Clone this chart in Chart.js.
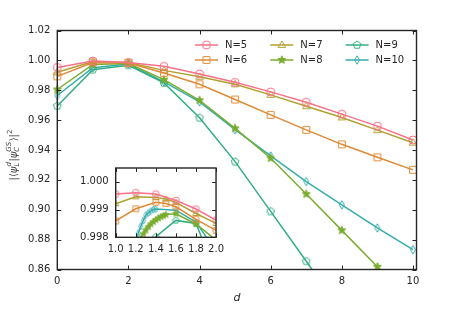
<!DOCTYPE html>
<html>
<head>
<meta charset="utf-8">
<script src="https://cdn.jsdelivr.net/npm/chart.js@4.4.0/dist/chart.umd.min.js"></script>
<style>
  html, body { margin: 0; padding: 0; background: #fff; }
  #wrap { position: relative; width: 463px; height: 309px; }
  #main { position: absolute; left: 0; top: 0; }
  #inset { position: absolute; left: 70px; top: 155px; }
</style>
</head>
<body>
<div id="wrap">
  <canvas id="main" width="463" height="309"></canvas>
  <canvas id="inset" width="160" height="105"></canvas>
</div>
<script>
// main panel, d = 0..10
const dValues = [0, 1, 2, 3, 4, 5, 6, 7, 8, 9, 10];
const n5 = [0.9953, 0.9996, 0.9986, 0.9960, 0.9909, 0.9853, 0.9789, 0.9720, 0.9640, 0.9560, 0.9467];
const n6 = [0.9893, 0.9986, 0.9983, 0.9916, 0.9840, 0.9738, 0.9635, 0.9535, 0.9438, 0.9351, 0.9267];
const n7 = [0.9920, 0.9992, 0.9985, 0.9933, 0.9890, 0.9840, 0.9769, 0.9693, 0.9618, 0.9533, 0.9449];
const n8 = [0.9805, 0.9973, 0.9979, 0.9871, 0.9733, 0.9545, 0.9345, 0.9105, 0.8862, 0.8618, 0.8370];
const n9 = [0.9695, 0.9938, 0.9967, 0.9849, 0.9616, 0.9322, 0.8989, 0.8655, 0.8320, 0.7990, 0.7660];
const n10 = [0.9765, 0.9951, 0.9975, 0.9856, 0.9722, 0.9536, 0.9360, 0.9189, 0.9033, 0.8878, 0.8733];
const xTicks = [0, 2, 4, 6, 8, 10];
const yTicks = [0.86, 0.88, 0.90, 0.92, 0.94, 0.96, 0.98, 1.00, 1.02];

// inset panel, d = 1..2
const insetD5 = [1.0, 1.2, 1.4, 1.6, 1.8, 2.0];
const inset5 = [0.99956, 0.99961, 0.99956, 0.99933, 0.99902, 0.99862];
const insetD6 = [1.0, 1.2, 1.4, 1.5, 1.6, 1.8, 2.0];
const inset6 = [0.99859, 0.99903, 0.99926, 0.99922, 0.99910, 0.99865, 0.99825];
const insetD7 = [1.0, 1.2, 1.4, 1.5, 1.6, 1.8, 2.0];
const inset7 = [0.99921, 0.99946, 0.99944, 0.99938, 0.99926, 0.99886, 0.99850];
const insetD8 = [1.0, 1.25, 1.275, 1.3, 1.325, 1.35, 1.375, 1.4, 1.425, 1.45, 1.475, 1.5, 1.6, 1.8, 2.0];
const inset8 = [0.9973, 0.99795, 0.99812, 0.99826, 0.99838, 0.99848, 0.99856, 0.99863, 0.99869, 0.99874, 0.99878, 0.99882, 0.99885, 0.99848, 0.9979];
const insetD9 = [1.0, 1.2, 1.4, 1.6, 1.8, 2.0];
const inset9 = [0.9938, 0.9963, 0.99802, 0.99861, 0.99850, 0.9967];
const insetD10 = [1.0, 1.2, 1.225, 1.25, 1.275, 1.3, 1.325, 1.35, 1.375, 1.4, 1.6, 1.8, 2.0];
const inset10 = [0.9951, 0.99785, 0.99815, 0.9984, 0.9986, 0.9988, 0.99888, 0.99895, 0.999, 0.99902, 0.99898, 0.99855, 0.9975];
const insetXTicks = [1.0, 1.2, 1.4, 1.6, 1.8, 2.0];
const insetYTicks = [0.998, 0.999, 1.000];

const seriesLabels = ['N=5', 'N=6', 'N=7', 'N=8', 'N=9', 'N=10'];
const colors = ['#f77189', '#de8a35', '#b0a030', '#7aac2f', '#33ae80', '#36adab'];
const shapes = ['circle', 'square', 'triangle', 'star', 'pentagon', 'diamond'];

const INK = '#262626';
const FONT = 'DejaVu Sans';

function markerPath(g, shape, m, r) {
  g.beginPath();
  if (shape === 'circle') {
    g.arc(m, m, r, 0, Math.PI * 2);
  } else if (shape === 'square') {
    g.rect(m - r * 0.85, m - r * 0.85, r * 1.7, r * 1.7);
  } else if (shape === 'triangle') {
    g.moveTo(m, m - r);
    g.lineTo(m + r * 0.95, m + r * 0.6);
    g.lineTo(m - r * 0.95, m + r * 0.6);
    g.closePath();
  } else if (shape === 'star') {
    for (let i = 0; i < 10; i++) {
      const rr = i % 2 ? r * 0.45 : r * 1.05;
      const a = -Math.PI / 2 + i * Math.PI / 5;
      g.lineTo(m + rr * Math.cos(a), m + rr * Math.sin(a));
    }
    g.closePath();
  } else if (shape === 'pentagon') {
    for (let i = 0; i < 5; i++) {
      const a = -Math.PI / 2 + i * 2 * Math.PI / 5;
      g.lineTo(m + r * Math.cos(a), m + r * Math.sin(a));
    }
    g.closePath();
  } else if (shape === 'diamond') {
    g.moveTo(m, m - r * 1.05);
    g.lineTo(m + r * 0.62, m);
    g.lineTo(m, m + r * 1.05);
    g.lineTo(m - r * 0.62, m);
    g.closePath();
  }
}

function makeMarker(shape, color, r) {
  const size = Math.ceil(r * 2 + 4);
  const c = document.createElement('canvas');
  c.width = size;
  c.height = size;
  const g = c.getContext('2d');
  g.strokeStyle = color;
  g.fillStyle = color;
  g.lineWidth = 1;
  markerPath(g, shape, size / 2, r);
  if (shape === 'star') g.fill();
  g.stroke();
  return c;
}

// frame + inward ticks on all four sides
const framePlugin = {
  id: 'frame',
  beforeDraw(chart, args, opts) {
    if (!opts.fill) return;
    const a = chart.chartArea;
    const ctx = chart.ctx;
    ctx.save();
    ctx.fillStyle = '#fff';
    ctx.fillRect(a.left, a.top, a.right - a.left, a.bottom - a.top);
    ctx.restore();
  },
  afterDraw(chart) {
    const a = chart.chartArea;
    const ctx = chart.ctx;
    const len = 4;
    ctx.save();
    ctx.strokeStyle = INK;
    ctx.lineWidth = 1;
    ctx.beginPath();
    chart.scales.x.ticks.forEach(t => {
      const px = Math.round(chart.scales.x.getPixelForValue(t.value)) + 0.5;
      ctx.moveTo(px, a.bottom); ctx.lineTo(px, a.bottom - len);
      ctx.moveTo(px, a.top); ctx.lineTo(px, a.top + len);
    });
    chart.scales.y.ticks.forEach(t => {
      const py = Math.round(chart.scales.y.getPixelForValue(t.value)) + 0.5;
      ctx.moveTo(a.left, py); ctx.lineTo(a.left + len, py);
      ctx.moveTo(a.right, py); ctx.lineTo(a.right - len, py);
    });
    ctx.stroke();
    ctx.lineWidth = 1.4;
    ctx.strokeRect(a.left, a.top, a.right - a.left, a.bottom - a.top);
    ctx.restore();
  }
};

// matplotlib style legend, 3 columns filled column by column
const legendPlugin = {
  id: 'mplLegend',
  afterDraw(chart) {
    const a = chart.chartArea;
    const ctx = chart.ctx;
    const x0 = a.right - 221.5;
    const y0 = a.top + 14.5;
    ctx.save();
    ctx.font = '10px "' + FONT + '"';
    ctx.textBaseline = 'middle';
    chart.data.datasets.forEach((ds, i) => {
      const col = Math.floor(i / 2);
      const row = i % 2;
      const x = x0 + col * 75.3;
      const y = y0 + row * 15;
      ctx.strokeStyle = ds.borderColor;
      ctx.lineWidth = 1.5;
      ctx.beginPath();
      ctx.moveTo(x, y); ctx.lineTo(x + 23, y);
      ctx.stroke();
      const mk = ds.pointStyle;
      ctx.drawImage(mk, x + 11.5 - mk.width / 2, y - mk.height / 2);
      ctx.fillStyle = INK;
      ctx.fillText(ds.label, x + 30, y + 0.5);
    });
    ctx.restore();
  }
};

// |<psi_L^d|psi_C^GS>|^2 rotated y label
const yLabelPlugin = {
  id: 'yLabel',
  afterDraw(chart) {
    const ctx = chart.ctx;
    const a = chart.chartArea;
    const parts = [
      { t: '|⟨', f: '10px', dy: 0 },
      { t: 'ψ', f: 'italic 10px', dy: 0 },
      { stack: ['d', 'L'] },
      { t: '|', f: '10px', dy: 0 },
      { t: 'ψ', f: 'italic 10px', dy: 0 },
      { stack: ['GS', 'C'] },
      { t: '⟩|', f: '10px', dy: 0 },
      { t: '2', f: '7px', dy: -4 }
    ];
    ctx.save();
    ctx.fillStyle = '#444';
    ctx.textBaseline = 'middle';
    const widthOf = p => {
      if (p.stack) {
        ctx.font = 'italic 7px "' + FONT + '"';
        return Math.max(ctx.measureText(p.stack[0]).width, ctx.measureText(p.stack[1]).width) + 0.5;
      }
      ctx.font = p.f + ' "' + FONT + '"';
      return ctx.measureText(p.t).width;
    };
    const total = parts.reduce((s, p) => s + widthOf(p), 0);
    ctx.translate(14, (a.top + a.bottom) / 2 + 5);
    ctx.rotate(-Math.PI / 2);
    let x = -total / 2;
    parts.forEach(p => {
      const w = widthOf(p);
      if (p.stack) {
        ctx.font = 'italic 7px "' + FONT + '"';
        ctx.fillText(p.stack[0], x, -4.5);
        ctx.fillText(p.stack[1], x, 3.5);
      } else {
        ctx.font = p.f + ' "' + FONT + '"';
        ctx.fillText(p.t, x, p.dy);
      }
      x += w;
    });
    ctx.restore();
  }
};

function buildDatasets(xs, ys, r, clip) {
  return seriesLabels.map((label, i) => ({
    label: label,
    data: xs[i].map((d, j) => ({ x: d, y: ys[i][j] })),
    borderColor: colors[i],
    backgroundColor: colors[i],
    borderWidth: 1.5,
    pointStyle: makeMarker(shapes[i], colors[i], r),
    pointRadius: r,
    pointHoverRadius: r,
    tension: 0,
    clip: clip
  }));
}

function axisOptions(min, max, tickList, digits, size, isX, padding) {
  return {
    type: 'linear',
    min: min,
    max: max,
    afterBuildTicks: s => { s.ticks = tickList.map(v => ({ value: v })); },
    afterFit: s => { if (isX) s.height = size; else s.width = size; },
    grid: { display: false, drawTicks: false },
    border: { display: false },
    ticks: {
      padding: padding,
      color: INK,
      maxRotation: 0,
      autoSkip: false,
      font: { family: FONT, size: 10 },
      callback: v => Number(v).toFixed(digits)
    }
  };
}

const mainX = axisOptions(0, 10.1, xTicks, 0, 39.5, true, 6);
mainX.title = { display: true, text: 'd', color: INK, font: { family: FONT, style: 'italic', size: 11 }, padding: { top: 0, bottom: 4 } };

new Chart(document.getElementById('main'), {
  type: 'line',
  data: {
    datasets: buildDatasets(
      [dValues, dValues, dValues, dValues, dValues, dValues],
      [n5, n6, n7, n8, n9, n10],
      4,
      { left: 8, right: 8, top: 8, bottom: 0 }
    )
  },
  options: {
    responsive: false,
    animation: false,
    events: [],
    layout: { padding: { top: 30.5, right: 46.5, left: 0, bottom: 0 } },
    scales: {
      x: mainX,
      y: axisOptions(0.86, 1.02, yTicks, 2, 57.3, false, 7)
    },
    plugins: { legend: { display: false }, tooltip: { enabled: false }, frame: { fill: false } }
  },
  plugins: [framePlugin, legendPlugin, yLabelPlugin]
});

new Chart(document.getElementById('inset'), {
  type: 'line',
  data: {
    datasets: buildDatasets(
      [insetD5, insetD6, insetD7, insetD8, insetD9, insetD10],
      [inset5, inset6, inset7, inset8, inset9, inset10],
      3.3,
      0
    )
  },
  options: {
    responsive: false,
    animation: false,
    events: [],
    layout: { padding: { top: 11, right: 8.3, left: 0, bottom: 0 } },
    scales: {
      x: axisOptions(1.0, 2.0, insetXTicks, 1, 22.7, true, 6),
      y: axisOptions(0.998, 1.0005, insetYTicks, 3, 45.7, false, 7)
    },
    plugins: { legend: { display: false }, tooltip: { enabled: false }, frame: { fill: true } }
  },
  plugins: [framePlugin]
});
</script>
</body>
</html>
